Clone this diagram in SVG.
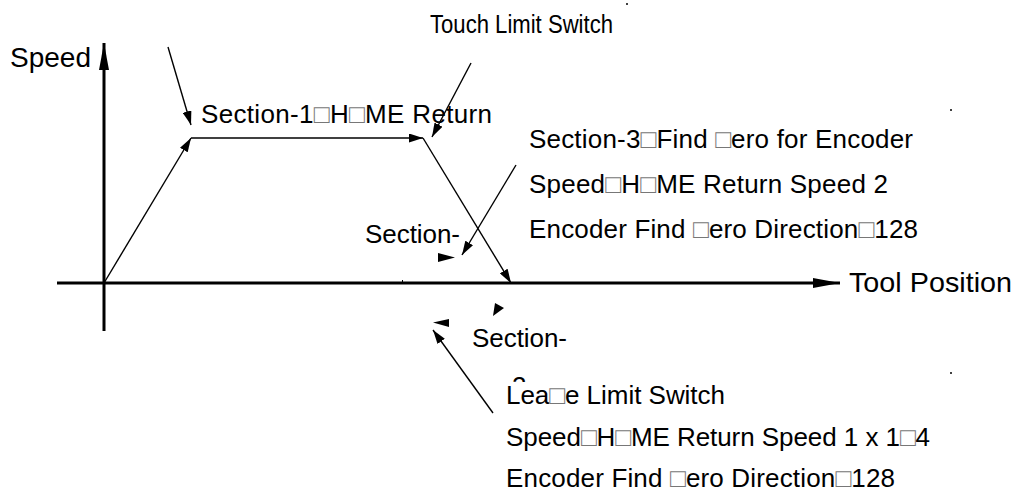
<svg xmlns="http://www.w3.org/2000/svg" width="1021" height="494" viewBox="0 0 1021 494">
<style>
text{font-family:"Liberation Sans",Arial,sans-serif;font-size:26px;fill:#000}
.tf{fill:#777}
.thin{stroke:#000;stroke-width:1.4;fill:none}
.thick{stroke:#000;stroke-width:3;fill:none}
.ah{fill:#000}
</style>
<defs>
<marker id="a" markerUnits="userSpaceOnUse" markerWidth="14" markerHeight="9" refX="14" refY="4.5" orient="auto"><path d="M0,0 L14,4.5 L0,9 z" fill="#000"/></marker>
<marker id="b" markerUnits="userSpaceOnUse" markerWidth="27" markerHeight="10" refX="27" refY="5" orient="auto"><path d="M0,0 L27,5 L0,10 z" fill="#000"/></marker>
<clipPath id="c2"><rect x="505" y="370" width="30" height="12"/></clipPath>
</defs>
<rect width="1021" height="494" fill="#fff"/>
<g id="connectors">
<line class="thick" x1="104" y1="331" x2="104" y2="43" marker-end="url(#b)"/>
<line class="thick" x1="57" y1="283" x2="840" y2="283" marker-end="url(#b)"/>
<line class="thin" x1="104" y1="283" x2="191" y2="138" marker-end="url(#a)"/>
<line class="thin" x1="191" y1="138" x2="423" y2="138" marker-end="url(#a)"/>
<line class="thin" x1="423" y1="138" x2="511" y2="283" marker-end="url(#a)"/>
<line class="thin" x1="168" y1="47" x2="191" y2="125" marker-end="url(#a)"/>
<line class="thin" x1="471" y1="63" x2="432" y2="137" marker-end="url(#a)"/>
<line class="thin" x1="516" y1="165" x2="462" y2="255" marker-end="url(#a)"/>
<line class="thin" x1="493" y1="413" x2="433" y2="330" marker-end="url(#a)"/>
<polygon class="ah" points="438,253 455,257.5 438,262"/>
<polygon class="ah" points="495,303 504,308 493,316"/>
<polygon class="ah" points="449,319 433,322.5 449,327"/>
</g>
<g id="speed-label"><text x="10" y="67" style="font-size:27px" textLength="81" lengthAdjust="spacingAndGlyphs">Speed</text></g>
<g id="tool-position-label"><text x="849" y="292" style="font-size:28px" textLength="163" lengthAdjust="spacingAndGlyphs">Tool Position</text></g>
<g id="touch-limit"><text x="430" y="33" style="font-size:25px" textLength="183" lengthAdjust="spacingAndGlyphs">Touch Limit Switch</text></g>
<g id="section-1"><text x="201" y="123" textLength="291" lengthAdjust="spacing">Section-1<tspan class="tf">□</tspan>H<tspan class="tf">□</tspan>ME Return</text></g>
<g id="section-3">
<text x="529" y="148" textLength="384" lengthAdjust="spacing">Section-3<tspan class="tf">□</tspan>Find <tspan class="tf">□</tspan>ero for Encoder</text>
<text x="529" y="193" textLength="359" lengthAdjust="spacing">Speed<tspan class="tf">□</tspan>H<tspan class="tf">□</tspan>ME Return Speed 2</text>
<text x="529" y="238" textLength="389" lengthAdjust="spacing">Encoder Find <tspan class="tf">□</tspan>ero Direction<tspan class="tf">□</tspan>128</text>
</g>
<g id="section-upper"><text x="365" y="243" textLength="95" lengthAdjust="spacing">Section-</text></g>
<g id="section-2">
<text x="472" y="347" textLength="95" lengthAdjust="spacing">Section-</text>
<text x="512" y="395" clip-path="url(#c2)">2</text>
<text x="506" y="404" textLength="219" lengthAdjust="spacing">Lea<tspan class="tf">□</tspan>e Limit Switch</text>
<text x="506" y="446" textLength="424" lengthAdjust="spacing">Speed<tspan class="tf">□</tspan>H<tspan class="tf">□</tspan>ME Return Speed 1 x 1<tspan class="tf">□</tspan>4</text>
<text x="506" y="487" textLength="389" lengthAdjust="spacing">Encoder Find <tspan class="tf">□</tspan>ero Direction<tspan class="tf">□</tspan>128</text>
</g>
<g id="dots" fill="#000">
<circle cx="627" cy="4" r="1"/>
<circle cx="951" cy="110" r="1"/>
<circle cx="951" cy="373" r="1"/>
<rect x="402" y="280" width="1" height="3"/>
</g>
</svg>
